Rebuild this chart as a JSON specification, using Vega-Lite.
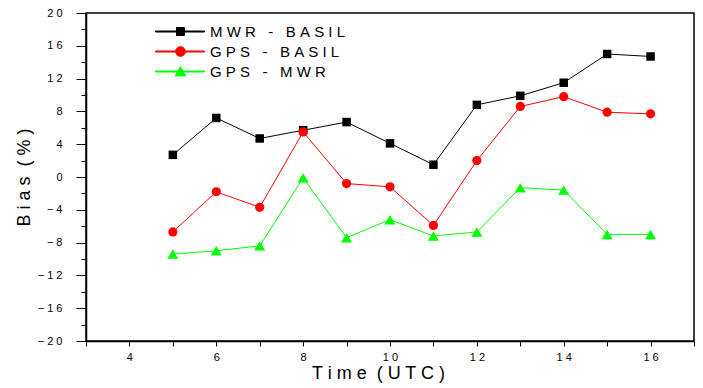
{
  "$schema": "https://vega.github.io/schema/vega-lite/v6.json",
  "width": 608,
  "height": 328,
  "autosize": {"type": "none"},
  "padding": {"left": 86, "top": 13, "right": 9, "bottom": 47},
  "background": "white",
  "config": {
    "font": "Liberation Sans",
    "view": {"stroke": "#000000", "strokeWidth": 1.5},
    "axis": {
      "grid": false,
      "domainColor": "#000000",
      "domainWidth": 1.5,
      "tickColor": "#000000",
      "tickWidth": 1,
      "labelColor": "#000000",
      "titleColor": "#000000",
      "labelFont": "Liberation Sans",
      "titleFont": "Liberation Sans",
      "titleFontWeight": "normal"
    }
  },
  "data": {
    "values": [
      {"series": "MWR - BASIL", "time": 5, "bias": 2.7},
      {"series": "MWR - BASIL", "time": 6, "bias": 7.2},
      {"series": "MWR - BASIL", "time": 7, "bias": 4.7},
      {"series": "MWR - BASIL", "time": 8, "bias": 5.7},
      {"series": "MWR - BASIL", "time": 9, "bias": 6.7},
      {"series": "MWR - BASIL", "time": 10, "bias": 4.1},
      {"series": "MWR - BASIL", "time": 11, "bias": 1.5},
      {"series": "MWR - BASIL", "time": 12, "bias": 8.8},
      {"series": "MWR - BASIL", "time": 13, "bias": 9.9},
      {"series": "MWR - BASIL", "time": 14, "bias": 11.5},
      {"series": "MWR - BASIL", "time": 15, "bias": 15.0},
      {"series": "MWR - BASIL", "time": 16, "bias": 14.7},
      {"series": "GPS - BASIL", "time": 5, "bias": -6.7},
      {"series": "GPS - BASIL", "time": 6, "bias": -1.8},
      {"series": "GPS - BASIL", "time": 7, "bias": -3.7},
      {"series": "GPS - BASIL", "time": 8, "bias": 5.5},
      {"series": "GPS - BASIL", "time": 9, "bias": -0.8},
      {"series": "GPS - BASIL", "time": 10, "bias": -1.2},
      {"series": "GPS - BASIL", "time": 11, "bias": -5.9},
      {"series": "GPS - BASIL", "time": 12, "bias": 2.0},
      {"series": "GPS - BASIL", "time": 13, "bias": 8.6},
      {"series": "GPS - BASIL", "time": 14, "bias": 9.8},
      {"series": "GPS - BASIL", "time": 15, "bias": 7.9},
      {"series": "GPS - BASIL", "time": 16, "bias": 7.7},
      {"series": "GPS - MWR", "time": 5, "bias": -9.4},
      {"series": "GPS - MWR", "time": 6, "bias": -9.0},
      {"series": "GPS - MWR", "time": 7, "bias": -8.4},
      {"series": "GPS - MWR", "time": 8, "bias": -0.1},
      {"series": "GPS - MWR", "time": 9, "bias": -7.4},
      {"series": "GPS - MWR", "time": 10, "bias": -5.2},
      {"series": "GPS - MWR", "time": 11, "bias": -7.2},
      {"series": "GPS - MWR", "time": 12, "bias": -6.7},
      {"series": "GPS - MWR", "time": 13, "bias": -1.3},
      {"series": "GPS - MWR", "time": 14, "bias": -1.6},
      {"series": "GPS - MWR", "time": 15, "bias": -7.0},
      {"series": "GPS - MWR", "time": 16, "bias": -7.0}
    ]
  },
  "encoding": {
    "x": {
      "field": "time",
      "type": "quantitative",
      "scale": {"domain": [3, 17], "nice": false, "zero": false},
      "axis": {
        "values": [3, 4, 5, 6, 7, 8, 9, 10, 11, 12, 13, 14, 15, 16, 17],
        "tickSize": 5,
        "labelExpr": "datum.value % 2 === 0 ? join(split(datum.label, ''), '\u00a0') : ''",
        "labelFontSize": 11,
        "labelPadding": 5,
        "labelFlush": false,
        "labelOverlap": false,
        "title": "T i m e\u00a0\u00a0( U T C )",
        "titleFontSize": 18,
        "titlePadding": 2,
        "titleX": 292
      }
    },
    "y": {
      "field": "bias",
      "type": "quantitative",
      "scale": {"domain": [-20, 20], "nice": false},
      "axis": {
        "values": [-20, -18, -16, -14, -12, -10, -8, -6, -4, -2, 0, 2, 4, 6, 8, 10, 12, 14, 16, 18, 20],
        "tickSize": {"condition": {"test": "datum.value % 4 === 0", "value": 10}, "value": 5},
        "labelExpr": "datum.value % 4 === 0 ? join(split(datum.label, ''), '\u00a0') : ''",
        "labelFontSize": 11,
        "labelPadding": 14,
        "labelOverlap": false,
        "title": "B i a s\u00a0\u00a0( % )",
        "titleFontSize": 18,
        "titlePadding": 4
      }
    },
    "color": {
      "field": "series",
      "type": "nominal",
      "scale": {
        "domain": ["MWR - BASIL", "GPS - BASIL", "GPS - MWR"],
        "range": ["#000000", "#ff0000", "#00ff00"]
      },
      "legend": {
        "orient": "none",
        "legendX": 87,
        "legendY": 11,
        "title": null,
        "padding": 0,
        "symbolType": {"expr": "datum.value === 'MWR - BASIL' ? 'M-6.25,-0.125H6V0.125H-6.25ZM-1,-1H1V1H-1Z' : datum.value === 'GPS - BASIL' ? 'M-6.25,-0.125H6V0.125H-6.25ZM-1.2,0A1.2,1.2 0 1,1 1.2,0A1.2,1.2 0 1,1 -1.2,0Z' : 'M-6.25,-0.125H6V0.125H-6.25ZM0,-1.2L1.35,1.1L-1.35,1.1Z'"},
        "symbolSize": 64,
        "symbolStrokeWidth": 1,
        "symbolOpacity": 1,
        "symbolStrokeColor": {"expr": "scale('color', datum.value)"},
        "symbolFillColor": {"expr": "scale('color', datum.value)"},
        "labelFontSize": 15,
        "labelFont": "Liberation Sans",
        "labelColor": "#000000",
        "labelOffset": 22,
        "rowPadding": 4,
        "labelExpr": "join(split(datum.label, ''), '\u00a0')"
      }
    }
  },
  "layer": [
    {
      "mark": {"type": "line", "strokeWidth": 1}
    },
    {
      "transform": [{"filter": "datum.series === 'MWR - BASIL'"}],
      "mark": {"type": "point", "filled": true, "opacity": 1, "shape": "square", "size": 72}
    },
    {
      "transform": [{"filter": "datum.series === 'GPS - BASIL'"}],
      "mark": {"type": "point", "filled": true, "opacity": 1, "shape": "circle", "size": 85}
    },
    {
      "transform": [{"filter": "datum.series === 'GPS - MWR'"}],
      "mark": {"type": "point", "filled": true, "opacity": 1, "shape": "triangle-up", "size": 120}
    }
  ]
}
